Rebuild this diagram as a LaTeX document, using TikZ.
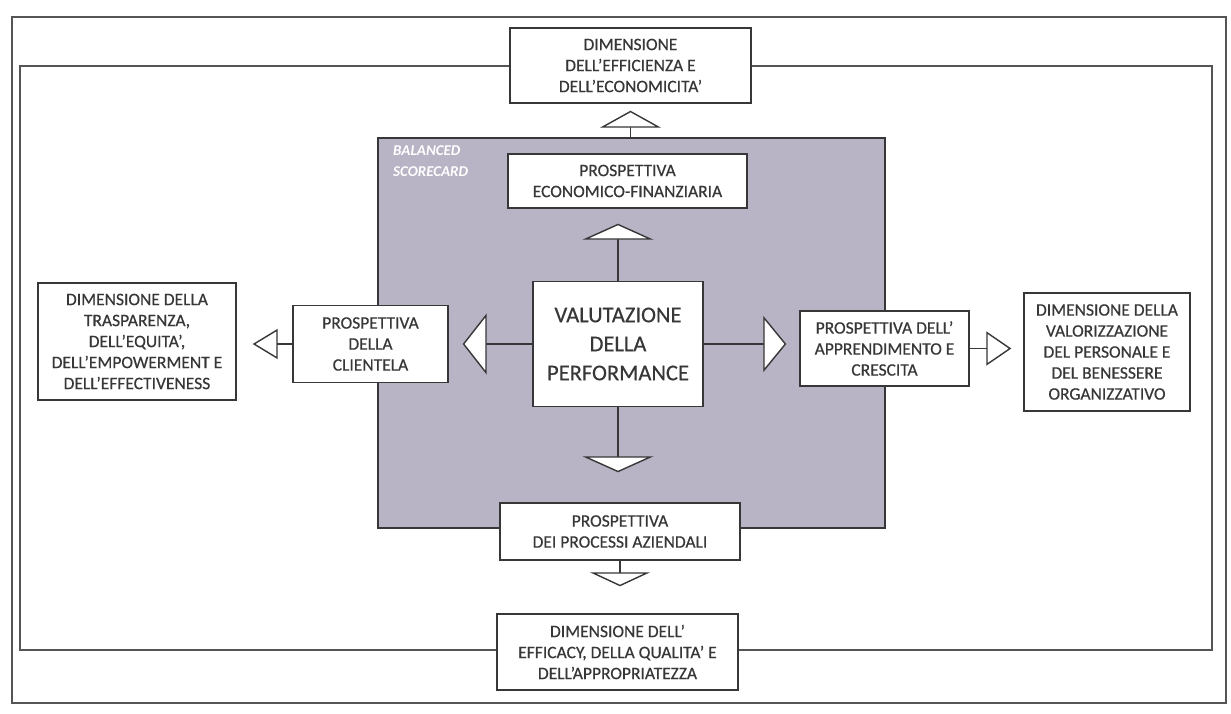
\documentclass[tikz,border=0pt]{standalone}
\usepackage{fontspec}
\setmainfont{Carlito}
\newfontfamily\heavyfont{Carlito}[FakeBold=0.5]
\usetikzlibrary{arrows.meta}
\definecolor{bscgray}{RGB}{184,179,197}
\definecolor{ink}{RGB}{55,55,55}
\begin{document}
\begin{tikzpicture}[x=1pt,y=-1pt,
  box/.style={draw=ink, line width=1.4pt, fill=white, align=center, inner sep=0pt,
    text=ink, font=\heavyfont\fontsize{17.5}{21}\selectfont},
  conn/.style={draw=ink, line width=1.4pt},
  frame/.style={draw=ink!85, line width=1.2pt},
]
\useasboundingbox (0,0) rectangle (1231,713);
\fill[white] (0,0) rectangle (1231,713);
% frames
\draw[frame] (12,17) rectangle (1226,703);
\draw[frame] (20,66) rectangle (1212,650);
% balanced scorecard area
\node[fill=bscgray, draw=ink, line width=1.4pt, minimum width=507pt, minimum height=390pt, inner sep=0pt] (bsc) at (631.5,333) {};
\node[anchor=north west, text=white, align=left, inner sep=0pt,
  font=\fontsize{15}{21}\selectfont\bfseries\itshape] (bsclabel) at (393,145) {BALANCED\\SCORECARD};
% boxes
\node[box, minimum width=241pt, minimum height=75pt] (dimT) at (630.5,65.5) {DIMENSIONE\\DELL’EFFICIENZA E\\DELL’ECONOMICITA’};
\node[box, minimum width=239pt, minimum height=54pt] (eco) at (627.5,181) {PROSPETTIVA\\ECONOMICO-FINANZIARIA};
\node[box, minimum width=170pt, minimum height=125pt, font=\heavyfont\fontsize{22.5}{29}\selectfont] (val) at (618,344) {VALUTAZIONE\\DELLA\\PERFORMANCE};
\node[box, minimum width=155pt, minimum height=77pt] (cli) at (370.5,344) {PROSPETTIVA\\DELLA\\CLIENTELA};
\node[box, minimum width=198pt, minimum height=117pt] (dimL) at (137,341.5) {DIMENSIONE DELLA\\TRASPARENZA,\\DELL’EQUITA’,\\DELL’EMPOWERMENT E\\DELL’EFFECTIVENESS};
\node[box, minimum width=169pt, minimum height=75pt] (app) at (884.5,348.5) {PROSPETTIVA DELL’\\APPRENDIMENTO E\\CRESCITA};
\node[box, minimum width=166pt, minimum height=118pt] (dimR) at (1107,352) {DIMENSIONE DELLA\\VALORIZZAZIONE\\DEL PERSONALE E\\DEL BENESSERE\\ORGANIZZATIVO};
\node[box, minimum width=240pt, minimum height=57pt] (proc) at (620,531.5) {PROSPETTIVA\\DEI PROCESSI AZIENDALI};
\node[box, minimum width=241pt, minimum height=76pt] (dimB) at (617.5,652) {DIMENSIONE DELL’\\EFFICACY, DELLA QUALITA’ E\\DELL’APPROPRIATEZZA};
% connectors
\draw[conn, -{Triangle[width=61pt,length=17pt,fill=white]}, shorten >=7pt] (bsc.north -| dimT.south) -- (dimT.south);
\draw[conn, -{Triangle[width=71pt,length=16pt,fill=white]}, shorten >=15pt] (val.north) -- (val.north |- eco.south);
\draw[conn, -{Triangle[width=61pt,length=24pt,fill=white]}, shorten >=14pt] (val.west) -- (val.west -| cli.east);
\draw[conn, -{Triangle[width=56pt,length=23pt,fill=white]}, shorten >=13pt] (val.east) -- (val.east -| app.west);
\draw[conn, -{Triangle[width=71pt,length=16pt,fill=white]}, shorten >=30pt] (val.south) -- (val.south |- proc.north);
\draw[conn, -{Triangle[width=30pt,length=25pt,fill=white]}, shorten >=16pt] (cli.west) -- (cli.west -| dimL.east);
\draw[conn, -{Triangle[width=34pt,length=25pt,fill=white]}, shorten >=12pt] (app.east) -- (app.east -| dimR.west);
\draw[conn, -{Triangle[width=60pt,length=14pt,fill=white]}, shorten >=27pt] (proc.south) -- (proc.south |- dimB.north);
\end{tikzpicture}
\end{document}
